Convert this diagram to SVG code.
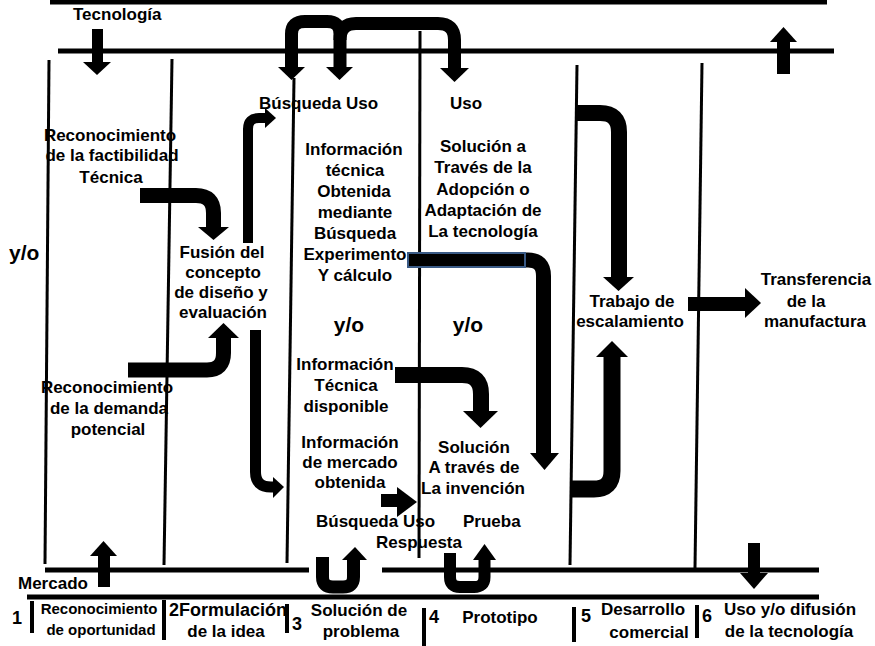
<svg xmlns="http://www.w3.org/2000/svg" width="875" height="646" viewBox="0 0 875 646">
<style>
.t{font-family:"Liberation Sans",Arial,sans-serif;font-weight:bold;font-size:17px;fill:#000;text-anchor:middle}
.s{text-anchor:start}
.yo{font-size:21px}
.sm{font-size:15px}
.n{font-size:18px}
.v{stroke:#000;stroke-width:3;fill:none}
.h{stroke:#000;stroke-width:5;fill:none}
.a{stroke:#000;fill:none}
.hd{fill:#000}
</style>
<rect width="875" height="646" fill="#fff"/>
<g id="frame">
<line class="h" x1="50" y1="2" x2="827" y2="2"/>
<line class="h" x1="58" y1="51" x2="834" y2="51"/>
<line class="v" x1="49" y1="60" x2="45" y2="564"/>
<line class="v" x1="172" y1="59" x2="164" y2="565"/>
<line class="v" x1="294" y1="78" x2="287" y2="563"/>
<line class="v" x1="420" y1="31" x2="419" y2="558"/>
<line class="v" x1="577" y1="65" x2="570" y2="565"/>
<line class="v" x1="702" y1="63" x2="695" y2="568"/>
<line class="h" x1="45" y1="570" x2="309" y2="570"/>
<line class="h" x1="382" y1="570" x2="819" y2="570"/>
<line class="h" x1="27" y1="597" x2="819" y2="597"/>
<line class="h" x1="32" y1="601" x2="32" y2="633" style="stroke-width:4"/>
<line class="h" x1="164" y1="600" x2="164" y2="640" style="stroke-width:4"/>
<line class="h" x1="287" y1="604" x2="287" y2="633" style="stroke-width:4"/>
<line class="h" x1="424" y1="608" x2="424" y2="646" style="stroke-width:4"/>
<line class="h" x1="574" y1="607" x2="574" y2="642" style="stroke-width:4"/>
<line class="h" x1="697" y1="605" x2="697" y2="638" style="stroke-width:4"/>
</g>
<g id="connectors">
<rect x="92" y="29" width="11" height="34"/>
<polygon class="hd" points="83,62 111,62 97,75"/>
<rect x="777" y="41" width="13" height="33"/>
<polygon class="hd" points="770,42 797,42 783.5,27"/>
<rect x="98" y="554" width="12" height="33"/>
<polygon class="hd" points="90,556 117,556 103.5,541"/>
<rect x="748" y="543" width="12" height="31"/>
<polygon class="hd" points="740,573 768,573 754,589"/>
<path class="a" stroke-width="13" d="M291.5,68 V34 Q291.5,21.5 305,21.5 H327 Q340,21.5 340,34 V68"/>
<polygon class="hd" points="278,67 305,67 291.5,80"/>
<polygon class="hd" points="326,67 353,67 339.5,80"/>
<path class="a" stroke-width="13" d="M340,40 Q340,23.5 356,23.5 H438 Q454.5,23.5 454.5,40 V69"/>
<polygon class="hd" points="440,68 469,68 454.5,82"/>
<path class="a" stroke-width="15" d="M140,195.5 H196 Q213.5,195.5 213.5,213 V228"/>
<polygon class="hd" points="198,227 229,227 213.5,240"/>
<path class="a" stroke-width="15" d="M128,370 H207 Q223.5,370 223.5,353 V337"/>
<polygon class="hd" points="208,338 239,338 223.5,323"/>
<path class="a" stroke-width="10" d="M248,243 V129 Q248,118 259,118 H266"/>
<polygon class="hd" points="265,108 265,128 276,118"/>
<path class="a" stroke-width="11" d="M255.5,330 V472 Q255.5,487 271,487 H274"/>
<polygon class="hd" points="273,477 273,498 284,487"/>
<rect x="408" y="253" width="117" height="14" fill="#000" stroke="#3A5A85" stroke-width="2"/>
<path class="a" stroke-width="15" d="M526,260 H528 Q543.5,260 543.5,276 V454"/>
<polygon class="hd" points="530,453 559,453 544.5,470"/>
<path class="a" stroke-width="16" d="M395,375 H462 Q481,375 481,394 V412"/>
<polygon class="hd" points="463,411 498,411 480.5,428"/>
<rect x="381" y="494" width="17" height="13"/>
<polygon class="hd" points="397,487 397,517 417,502"/>
<path class="a" stroke-width="13" d="M322.5,557 V577 Q322.5,587 333,587 H343 Q353.5,587 353.5,577 V559"/>
<polygon class="hd" points="342,560 367,560 355,547"/>
<path class="a" stroke-width="12" d="M450,553 V577 Q450,587 460,587 H474 Q484.5,587 484.5,577 V559"/>
<polygon class="hd" points="473,560 496,560 484.5,544"/>
<path class="a" stroke-width="16" d="M577,113 H600 Q619,113 619,132 V278"/>
<polygon class="hd" points="603,277 634,277 618.5,291"/>
<path class="a" stroke-width="17" d="M572,489 H594 Q612,489 612,471 V356"/>
<polygon class="hd" points="596,357 628,357 612,341"/>
<rect x="688" y="297" width="58" height="14"/>
<polygon class="hd" points="745,288 745,318 761,303"/>
</g>
<g id="n-tecnologia"><text class="t s" x="73" y="20">Tecnología</text></g>
<g id="n-mercado"><text class="t s" x="18" y="589">Mercado</text></g>
<g id="n-busqueda-uso-top"><text class="t s" x="259" y="109">Búsqueda Uso</text></g>
<g id="n-uso-top"><text class="t s" x="450" y="109">Uso</text></g>
<g id="n-factibilidad"><text class="t" x="110" y="141">Reconocimiento</text><text class="t" x="112" y="161">de la factibilidad</text><text class="t" x="111" y="183">Técnica</text></g>
<g id="n-yo-left"><text class="t s yo" x="9" y="260">y/o</text></g>
<g id="n-fusion"><text class="t" x="222" y="258">Fusión del</text><text class="t" x="223" y="278">concepto</text><text class="t" x="221" y="298">de diseño y</text><text class="t" x="223" y="318">evaluación</text></g>
<g id="n-demanda"><text class="t" x="107" y="393">Reconocimiento</text><text class="t" x="109" y="414">de la demanda</text><text class="t" x="108" y="435">potencial</text></g>
<g id="n-info-tecnica"><text class="t" x="354" y="155">Información</text><text class="t" x="355" y="176">técnica</text><text class="t" x="354" y="197">Obtenida</text><text class="t" x="355" y="218">mediante</text><text class="t" x="355" y="239">Búsqueda</text><text class="t" x="355" y="260">Experimento</text><text class="t" x="355" y="281">Y cálculo</text></g>
<g id="n-adopcion"><text class="t" x="483" y="152">Solución a</text><text class="t" x="483" y="173">Través de la</text><text class="t" x="483" y="195">Adopción o</text><text class="t" x="483" y="216">Adaptación de</text><text class="t" x="483" y="237">La tecnología</text></g>
<g id="n-yo-mid1"><text class="t yo" x="349" y="332">y/o</text></g>
<g id="n-yo-mid2"><text class="t yo" x="468" y="332">y/o</text></g>
<g id="n-disponible"><text class="t" x="345" y="370">Información</text><text class="t" x="346" y="391">Técnica</text><text class="t" x="346" y="412">disponible</text></g>
<g id="n-mercado-info"><text class="t" x="350" y="448">Información</text><text class="t" x="350" y="468">de mercado</text><text class="t" x="350" y="488">obtenida</text></g>
<g id="n-invencion"><text class="t" x="474" y="453">Solución</text><text class="t" x="474" y="473">A través de</text><text class="t" x="473" y="494">La invención</text></g>
<g id="n-busqueda-uso-bottom"><text class="t s" x="316" y="527">Búsqueda Uso</text></g>
<g id="n-prueba"><text class="t s" x="463" y="527">Prueba</text></g>
<g id="n-respuesta"><text class="t s" x="376" y="548">Respuesta</text></g>
<g id="n-trabajo"><text class="t" x="632" y="307">Trabajo de</text><text class="t" x="630" y="327">escalamiento</text></g>
<g id="n-transferencia"><text class="t" x="816" y="285">Transferencia</text><text class="t" x="806" y="307">de la</text><text class="t" x="815" y="327">manufactura</text></g>
<g id="n-stage1"><text class="t s n" x="12" y="624">1</text><text class="t sm" x="99" y="614">Reconocimiento</text><text class="t sm" x="101" y="635">de oportunidad</text></g>
<g id="n-stage2"><text class="t" x="228" y="616" style="font-size:18px">2Formulación</text><text class="t" x="226" y="637">de la idea</text></g>
<g id="n-stage3"><text class="t s n" x="292" y="630">3</text><text class="t" x="359" y="616">Solución de</text><text class="t" x="361" y="637">problema</text></g>
<g id="n-stage4"><text class="t s n" x="429" y="623">4</text><text class="t" x="500" y="623">Prototipo</text></g>
<g id="n-stage5"><text class="t s n" x="581" y="622">5</text><text class="t" x="643" y="615">Desarrollo</text><text class="t" x="649" y="638">comercial</text></g>
<g id="n-stage6"><text class="t s n" x="702" y="622">6</text><text class="t" x="790" y="615">Uso y/o difusión</text><text class="t" x="789" y="637">de la tecnología</text></g>
</svg>
